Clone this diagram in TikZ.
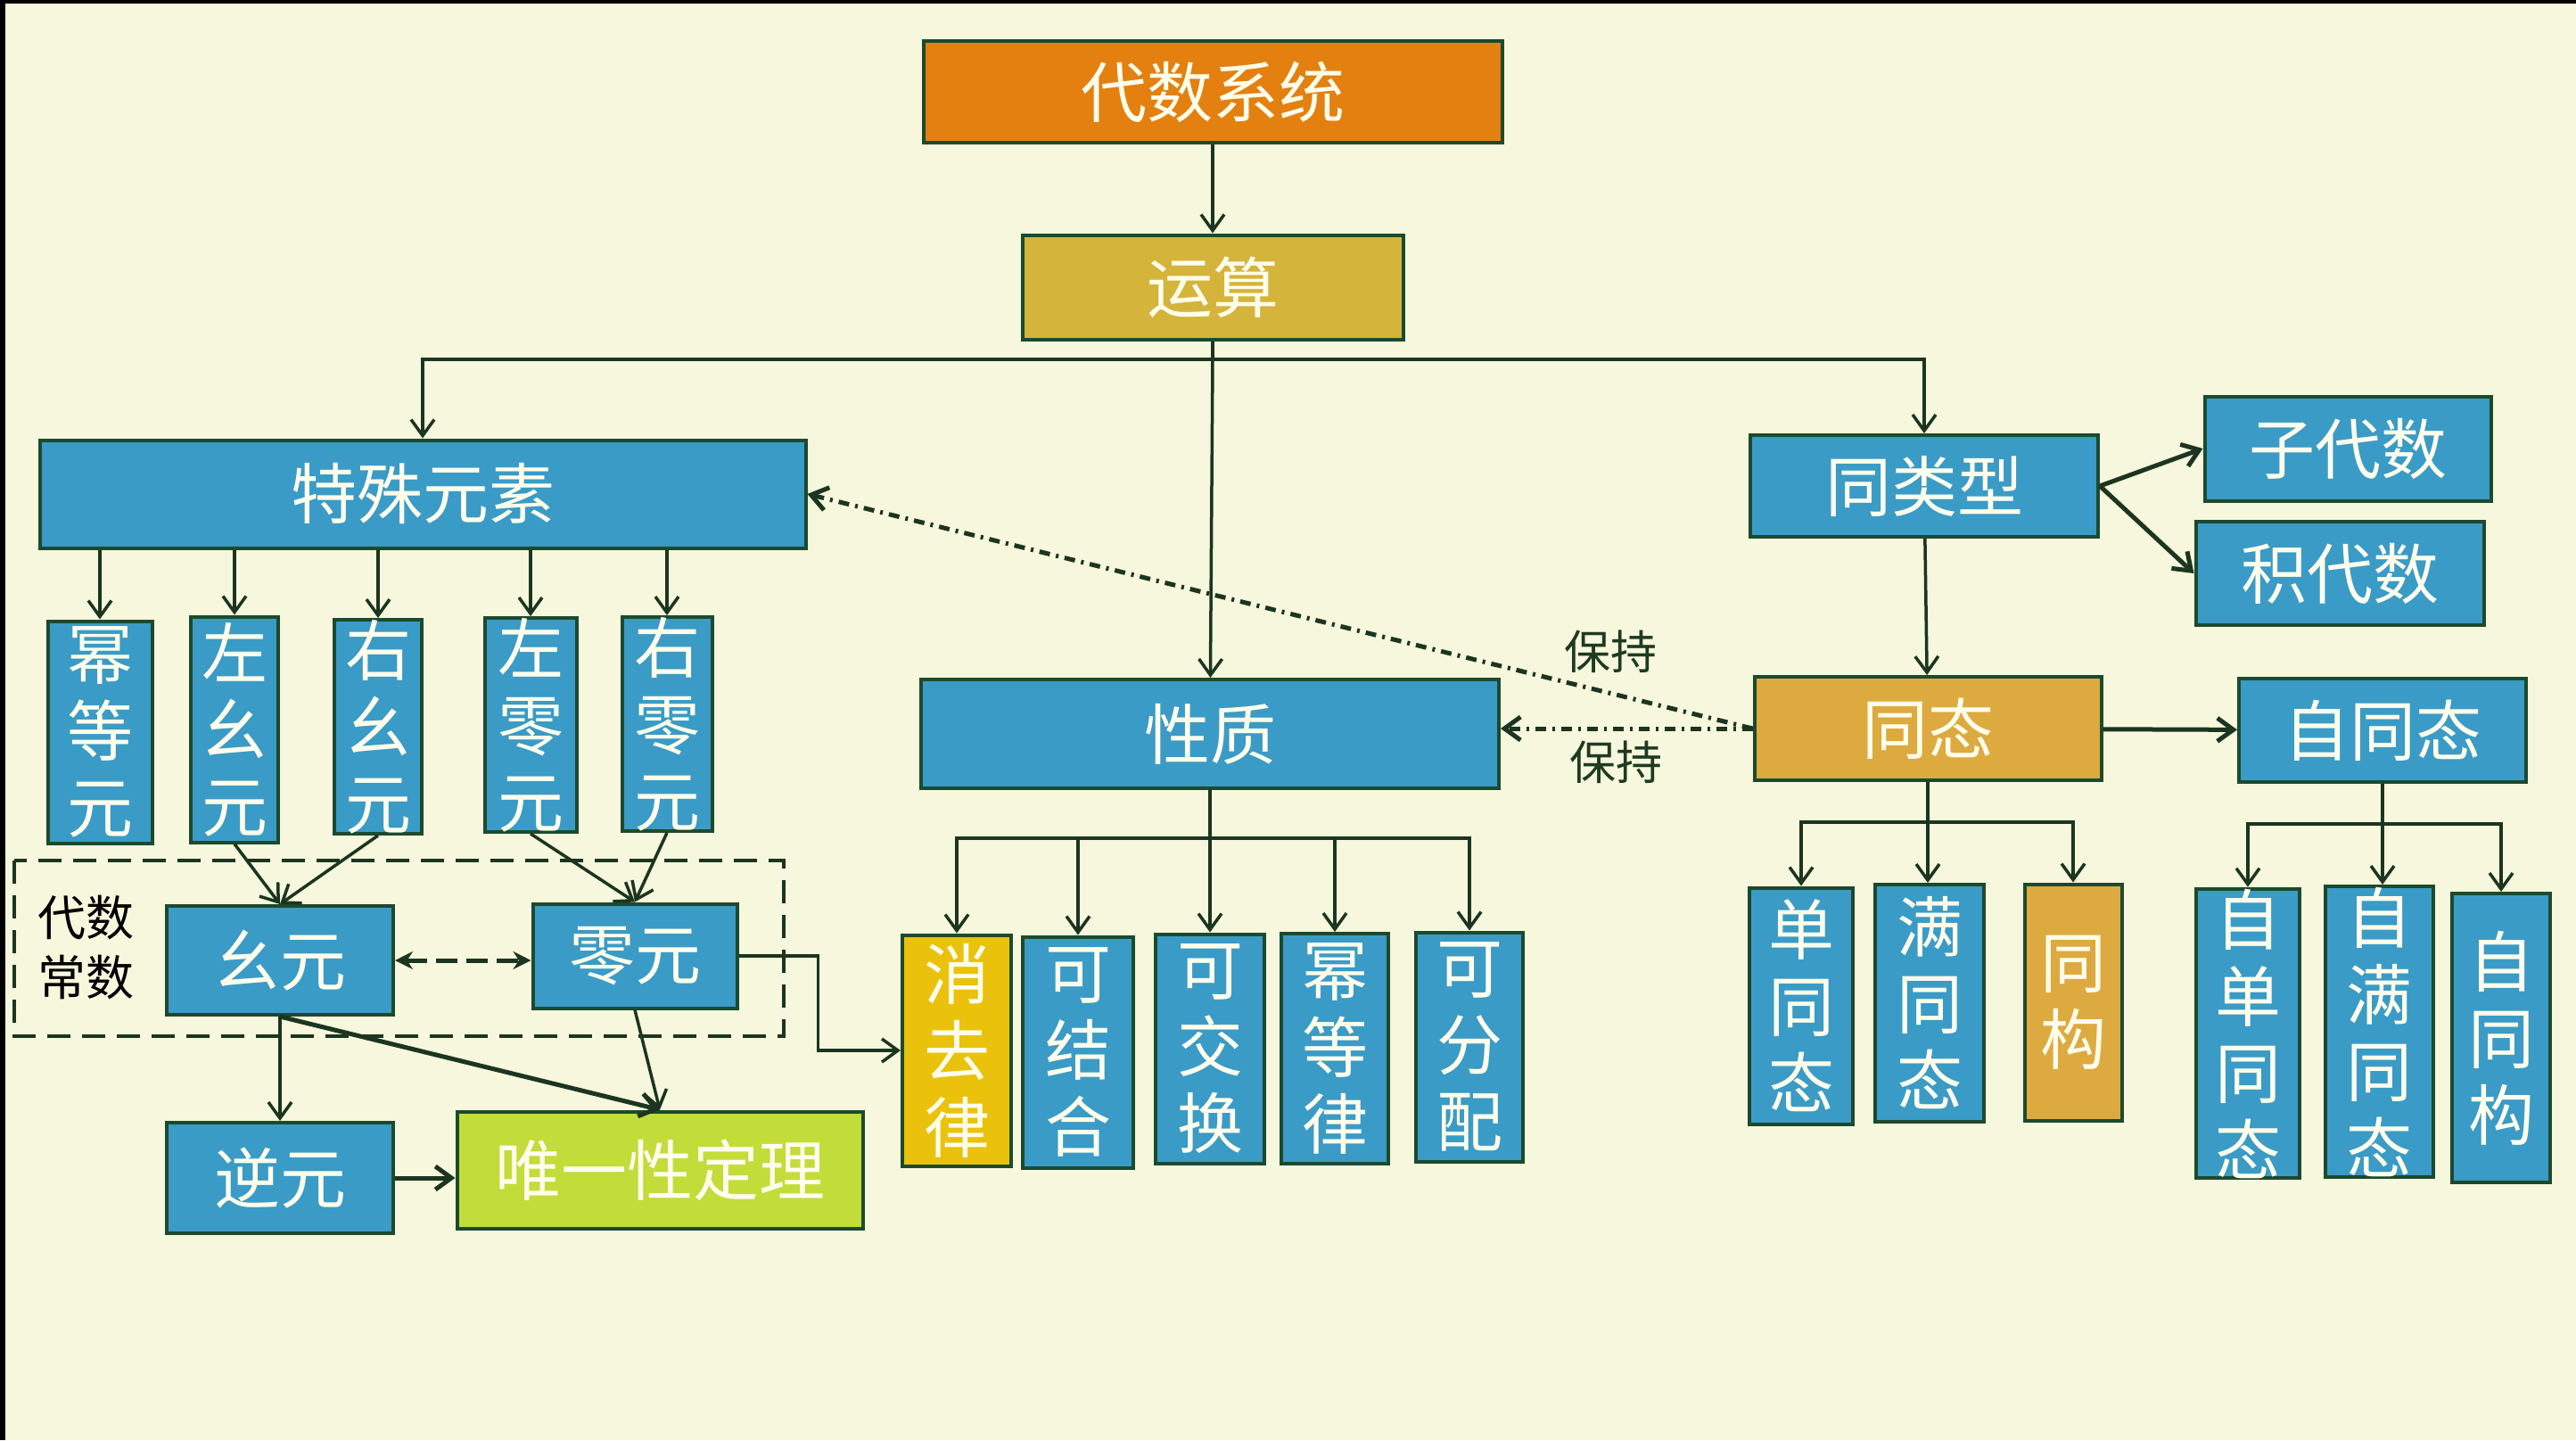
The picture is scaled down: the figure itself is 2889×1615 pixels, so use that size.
\documentclass[tikz,border=0pt]{standalone}
\usepackage{fontspec}
\setmainfont{Noto Sans CJK SC}
\usetikzlibrary{arrows.meta,positioning,calc}

\definecolor{bgcol}{HTML}{F6F7DC}
\definecolor{edgecol}{HTML}{1C4A2E}
\definecolor{linecol}{HTML}{1B3520}
\definecolor{bluebox}{HTML}{3A9BC6}
\definecolor{orangebox}{HTML}{E3800F}
\definecolor{mustardbox}{HTML}{D4B43A}
\definecolor{goldbox}{HTML}{DDAA3F}
\definecolor{yellowbox}{HTML}{EAC20C}
\definecolor{limebox}{HTML}{C2DC3A}
\definecolor{boxtext}{HTML}{FFFDEB}
\definecolor{notecol}{HTML}{1E3A22}

\begin{document}
\begin{tikzpicture}[
  x=1pt, y=-1pt,
  font=\fontsize{74}{86}\selectfont,
  >={Straight Barb[length=18pt,width=26pt]},
  box/.style={draw=edgecol, line width=4pt, fill=bluebox, text=boxtext, align=center, inner sep=0pt},
  wh/.style 2 args={minimum width=#1, minimum height=#2},
  arrow/.style={->, line width=3.5pt, draw=linecol},
  heavy/.style={arrow, line width=5pt},
  keep/.style={->, line width=5pt, draw=linecol, dash pattern=on 12pt off 7pt on 3pt off 7pt},
  note/.style={text=notecol, font=\fontsize{52}{60}\selectfont, inner sep=2pt}
]
\useasboundingbox (0,0) rectangle (2889,1615);
\fill[bgcol] (0,0) rectangle (2889,1615);
\fill[black] (0,0) rectangle (6,1615);
\fill[black] (0,0) rectangle (2889,4);

\node[box, fill=orangebox, wh={649pt}{114pt}] (sys) at (1360,103) {代数系统};
\node[box, fill=mustardbox, wh={427pt}{117pt}] (op) at (1360,322) {运算};
\node[box, wh={859pt}{121pt}] (spe) at (474,554) {特殊元素};
\node[box, wh={648pt}{122pt}] (prop) at (1357,823) {性质};
\node[box, wh={390pt}{114pt}] (typ) at (2158,545) {同类型};
\node[box, wh={321pt}{117pt}] (sub) at (2633,503) {子代数};
\node[box, wh={323pt}{116pt}] (prod) at (2624,643) {积代数};
\node[box, fill=goldbox, wh={389pt}{116pt}] (hom) at (2162,817) {同态};
\node[box, wh={322pt}{116pt}] (endo) at (2672,819) {自同态};

% 特殊元素
\node[box, wh={117pt}{249pt}] (idem) at (112,821) {幂\\等\\元};
\node[box, wh={98pt}{253pt}] (lunit) at (263,818) {左\\幺\\元};
\node[box, wh={98pt}{236pt}] (runit) at (424,815) {右\\幺\\元};
\node[box, wh={103pt}{234pt}] (lzero) at (595,813) {左\\零\\元};
\node[box, wh={101pt}{235pt}] (rzero) at (748,812) {右\\零\\元};

% 代数常数
\draw[linecol, line width=4pt, dash pattern=on 26pt off 13pt] (16,965) rectangle (879,1162);
\node[note, text=black, font=\fontsize{54}{67}\selectfont, align=center] (cnst) at (96,1063) {代数\\常数};
\node[box, wh={254pt}{122pt}] (unit) at (314,1077) {幺元};
\node[box, wh={229pt}{117pt}] (zero) at (712,1072) {零元};
\node[box, wh={254pt}{124pt}] (inv) at (314,1321) {逆元};
\node[box, fill=limebox, wh={455pt}{131pt}] (uniq) at (740,1312) {唯一性定理};

% 性质
\node[box, fill=yellowbox, wh={122pt}{259pt}] (canc) at (1073,1178) {消\\去\\律};
\node[box, wh={124pt}{259pt}] (assoc) at (1209,1180) {可\\结\\合};
\node[box, wh={122pt}{257pt}] (comm) at (1357,1176) {可\\交\\换};
\node[box, wh={120pt}{258pt}] (idlaw) at (1497,1176) {幂\\等\\律};
\node[box, wh={120pt}{257pt}] (dist) at (1648,1174) {可\\分\\配};

% 同态
\node[box, wh={116pt}{265pt}] (mono) at (2020,1128) {单\\同\\态};
\node[box, wh={122pt}{266pt}] (epi) at (2164,1125) {满\\同\\态};
\node[box, fill=goldbox, wh={109pt}{265pt}] (iso) at (2325,1124) {同\\构};
\node[box, wh={116pt}{322pt}] (emono) at (2521,1159) {自\\单\\同\\态};
\node[box, wh={121pt}{326pt}] (eepi) at (2668,1157) {自\\满\\同\\态};
\node[box, wh={110pt}{324pt}] (auto) at (2805,1164) {自\\同\\构};

\draw[arrow] (sys) -- (op);
\coordinate (opb) at (1360,403);
\draw[line width=3.5pt, draw=linecol] (op) -- (opb);
\draw[arrow] (opb) -| (spe);
\draw[arrow] (opb) -| (typ);
\draw[arrow] (opb) -- (prop);

\draw[arrow] (idem.north |- spe.south) -- (idem.north);
\draw[arrow] (lunit.north |- spe.south) -- (lunit.north);
\draw[arrow] (runit.north |- spe.south) -- (runit.north);
\draw[arrow] (lzero.north |- spe.south) -- (lzero.north);
\draw[arrow] (rzero.north |- spe.south) -- (rzero.north);

\draw[arrow] (lunit.south) -- (unit.north);
\draw[arrow] (runit.south) -- (unit.north);
\draw[arrow] (lzero.south) -- (zero.north);
\draw[arrow] (rzero.south) -- (zero.north);
\draw[line width=5pt, draw=linecol, dash pattern=on 24pt off 10pt,
  {Stealth[length=20pt,width=20pt]}-{Stealth[length=20pt,width=20pt]}] (unit.east) -- (unit.east -| zero.west);
\draw[arrow] (unit.south) -- (inv.north);
\draw[heavy] (unit.south) -- (uniq.north);
\draw[arrow] (zero.south) -- (uniq.north);
\draw[heavy] (inv.east) -- (inv.east -| uniq.west);
\draw[arrow] (zero.east) -- ++(89,0) |- (canc.west);

\coordinate (pb) at (1357,940);
\draw[arrow] (prop) -- (comm);
\draw[arrow] (pb) -| (canc);
\draw[arrow] (pb) -| (dist);
\draw[arrow] (assoc.north |- pb) -- (assoc);
\draw[arrow] (idlaw.north |- pb) -- (idlaw);

\draw[arrow] (typ) -- (hom);
\draw[heavy] (typ.east) -- (sub.west);
\draw[heavy] (typ.east) -- (prod.west);
\draw[heavy] (hom) -- (endo);
\coordinate (hb) at (2162,922);
\draw[arrow] (hom) -- (hom |- epi.north);
\draw[arrow] (hb) -| (mono);
\draw[arrow] (hb) -| (iso);
\coordinate (eb) at (2670,924);
\draw[arrow] (endo) -- (endo |- eepi.north);
\draw[arrow] (eb) -| (emono);
\draw[arrow] (eb) -| (auto);

% 保持
\draw[keep] (hom.west) -- node[note, pos=0.15, yshift=47pt] (kp1) {保持} (spe.east);
\draw[keep] (hom.west) -- node[note, pos=0.54, yshift=-38pt] (kp2) {保持} (hom.west -| prop.east);
\end{tikzpicture}
\end{document}
